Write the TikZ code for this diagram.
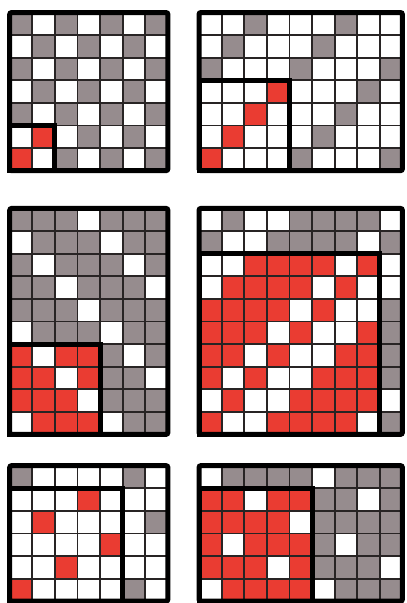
\documentclass[tikz,border=0pt]{standalone}
\usepackage{tikz}
\definecolor{cellgray}{RGB}{150,140,142}
\definecolor{cellred}{RGB}{234,60,50}
\definecolor{gridink}{RGB}{40,36,36}
\newcommand{\pw}{22.6}
% #1,#2 corner; #3 cols; #4 rows; #5 first row of box; #6 box cols; #7 test for a filled cell
\newcommand{\drawpanel}[7]{%
  \foreach \i in {1,...,#4}{
    \foreach \j in {1,...,#3}{
      \pgfmathtruncatemacro{\marked}{#7}
      \pgfmathtruncatemacro{\inbox}{and(\i>=#5,\j<=#6)}
      \ifnum\marked=1
        \ifnum\inbox=1
          \fill[cellred] ({#1+(\j-1)*\pw},{#2+(\i-1)*\pw}) rectangle ++(\pw,\pw);
        \else
          \fill[cellgray] ({#1+(\j-1)*\pw},{#2+(\i-1)*\pw}) rectangle ++(\pw,\pw);
        \fi
      \fi
    }
  }
  \pgfmathtruncatemacro{\lastc}{#3-1}
  \pgfmathtruncatemacro{\lastr}{#4-1}
  \foreach \k in {1,...,\lastc}
    \draw[gridline] ({#1+\k*\pw},#2) -- ++(0,{#4*\pw});
  \foreach \k in {1,...,\lastr}
    \draw[gridline] (#1,{#2+\k*\pw}) -- ++({#3*\pw},0);
  \draw[frame] (#1,#2) rectangle ({#1+#3*\pw},{#2+#4*\pw});
  \draw[boxline] (#1,{#2+(#5-1)*\pw}) rectangle ({#1+#6*\pw},{#2+#4*\pw});
}

\begin{document}
\begin{tikzpicture}[
    x=1pt, y=-1pt,
    gridline/.style={draw=gridink, line width=1.8pt},
    frame/.style={draw=black, line width=5pt, rounded corners=2pt},
    boxline/.style={draw=black, line width=5pt}
]
\useasboundingbox (0,0) rectangle (407,603);
\clip (0,0) rectangle (407,603);

% Top row
\drawpanel{9.7}{12.5}{7}{7}{6}{2}{mod(\i+\j,2)==0}
\drawpanel{199}{12.5}{9}{7}{4}{4}{mod(\i+\j,4)==0}

% Middle row
\drawpanel{9.7}{208.4}{7}{10}{7}{4}{mod(\j-\i+40,4)!=3}
\drawpanel{199}{208.4}{9}{10}{3}{8}{mod(\i+\j,8)!=2 && mod(\i+\j,8)!=4 && mod(\i+\j,8)!=5}

% Bottom row
\drawpanel{9.7}{465.6}{7}{6}{2}{5}{mod(\j+2*\i+2,5)==0}
\drawpanel{199}{465.6}{9}{6}{2}{5}{mod(\j-2*\i+51,5)!=0}
\end{tikzpicture}
\end{document}
